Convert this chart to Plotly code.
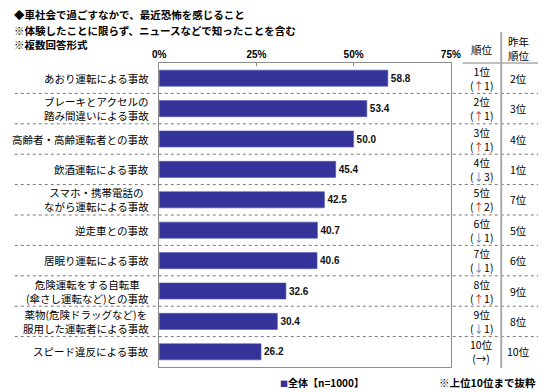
import plotly.graph_objects as go

title_lines = ["◆車社会で過ごすなかで、最近恐怖を感じること",
               "※体験したことに限らず、ニュースなどで知ったことを含む",
               "※複数回答形式"]
categories = ["あおり運転による事故",
              "ブレーキとアクセルの<br>踏み間違いによる事故",
              "高齢者・高齢運転者との事故",
              "飲酒運転による事故",
              "スマホ・携帯電話の<br>ながら運転による事故",
              "逆走車との事故",
              "居眠り運転による事故",
              "危険運転をする自転車<br>(傘さし運転など)との事故",
              "薬物(危険ドラッグなど)を<br>服用した運転者による事故",
              "スピード違反による事故"]
values = [58.8, 53.4, 50.0, 45.4, 42.5, 40.7, 40.6, 32.6, 30.4, 26.2]
ranks = ["1位", "2位", "3位", "4位", "5位", "6位", "7位", "8位", "9位", "10位"]
change_dir = ["up", "up", "up", "down", "up", "down", "down", "up", "down", "same"]
change_amt = ["1", "1", "1", "3", "2", "1", "1", "1", "1", ""]
last_year = ["2位", "3位", "4位", "1位", "7位", "5位", "6位", "9位", "8位", "10位"]
x_ticks = [0, 25, 50, 75]
legend_label = "全体【n=1000】"
footnote = "※上位10位まで抜粋"

W, H = 550, 392
JP = "Noto Sans CJK JP"
BAR = "#333399"
GRID = "#8c8c8c"


def px(x):
    return x / W


def py(y):
    return 1 - y / H


fig = go.Figure()
fig.add_trace(go.Bar(
    x=values, y=categories, orientation="h",
    marker=dict(color=BAR, line=dict(color="#5a5ab8", width=0.6)),
    width=0.53,
    text=[f"{v:.1f}" for v in values], textposition="outside",
    textfont=dict(family="Liberation Sans", size=10, color="#111", weight="bold"),
    cliponaxis=False, showlegend=False, hoverinfo="skip",
))

annotations = []
for i, t in enumerate(title_lines):
    annotations.append(dict(x=px(5), y=py([15, 30, 45][i]), xref="paper", yref="paper",
                            xanchor="left", yanchor="middle", showarrow=False, text=t,
                            font=dict(family=JP, size=10.5, color="#000", weight="bold")))

for c in categories:
    annotations.append(dict(x=px(149), y=c, xref="paper", yref="y", xanchor="right",
                            yanchor="middle", align="center", showarrow=False, text=c,
                            font=dict(family=JP, size=10.5, color="#000")))

arrow = {"up": "<span style='color:#c0392b'>↑</span>",
         "down": "<span style='color:#2f7fb5'>↓</span>",
         "same": "→"}
for c, r, d, a, ly in zip(categories, ranks, change_dir, change_amt, last_year):
    annotations.append(dict(x=px(490), y=c, xref="paper", yref="y", xanchor="center",
                            yanchor="middle", align="center", showarrow=False,
                            text=f"{r}<br>({arrow[d]}{a})",
                            font=dict(family=JP, size=10.5, color="#000")))
    annotations.append(dict(x=px(528), y=c, xref="paper", yref="y", xanchor="center",
                            yanchor="middle", showarrow=False, text=ly,
                            font=dict(family=JP, size=10.5, color="#000")))

annotations.append(dict(x=px(490), y=py(49), xref="paper", yref="paper", xanchor="center",
                        yanchor="middle", showarrow=False, text="順位",
                        font=dict(family=JP, size=10.5, color="#000")))
annotations.append(dict(x=px(528), y=py(48), xref="paper", yref="paper", xanchor="center",
                        yanchor="middle", showarrow=False, text="昨年<br>順位",
                        font=dict(family=JP, size=10.5, color="#000")))
annotations.append(dict(x=px(280), y=py(382), xref="paper", yref="paper", xanchor="left",
                        yanchor="middle", showarrow=False,
                        text=f"<span style='color:{BAR};font-size:8px'>■</span>{legend_label}",
                        font=dict(family=JP, size=10, color="#000", weight="bold")))
annotations.append(dict(x=px(548), y=py(382), xref="paper", yref="paper", xanchor="right",
                        yanchor="middle", showarrow=False, text=footnote,
                        font=dict(family=JP, size=10.5, color="#000", weight="bold")))

shapes = []
for i in range(len(categories) - 1):
    shapes.append(dict(type="line", xref="paper", yref="y", x0=px(8), x1=px(548),
                       y0=i + 0.5, y1=i + 0.5, line=dict(color="#777", width=1, dash="dot")))
shapes.append(dict(type="line", xref="paper", yref="paper", x0=px(510), x1=px(510),
                   y0=py(32), y1=py(368), line=dict(color="#aaaaaa", width=2)))
shapes.append(dict(type="line", xref="paper", yref="paper", x0=px(470), x1=px(548),
                   y0=py(63), y1=py(63), line=dict(color="#aaaaaa", width=1.5)))

fig.update_layout(
    width=W, height=H, margin=dict(l=0, r=0, t=0, b=0),
    paper_bgcolor="white", plot_bgcolor="white",
    annotations=annotations, shapes=shapes,
    xaxis=dict(domain=[px(157), px(458)], range=[0, 75], side="top",
               tickvals=x_ticks, ticktext=[f"{t}%" for t in x_ticks],
               tickfont=dict(family="Liberation Sans", size=10, color="#000", weight="bold"),
               showgrid=False, zeroline=False, showline=True, linecolor=GRID,
               linewidth=1, mirror=True, ticks="inside", ticklen=3, tickcolor=GRID),
    yaxis=dict(domain=[py(367), py(63)], type="category", categoryarray=categories,
               range=[9.5, -0.5], showticklabels=False, showgrid=False,
               zeroline=False, showline=True, linecolor=GRID, linewidth=1,
               mirror=True, ticks=""),
    bargap=0.47,
)

fig.write_html("out.html", config={"displayModeBar": False},
               post_script="document.body.style.margin='0';document.body.style.padding='0';")
